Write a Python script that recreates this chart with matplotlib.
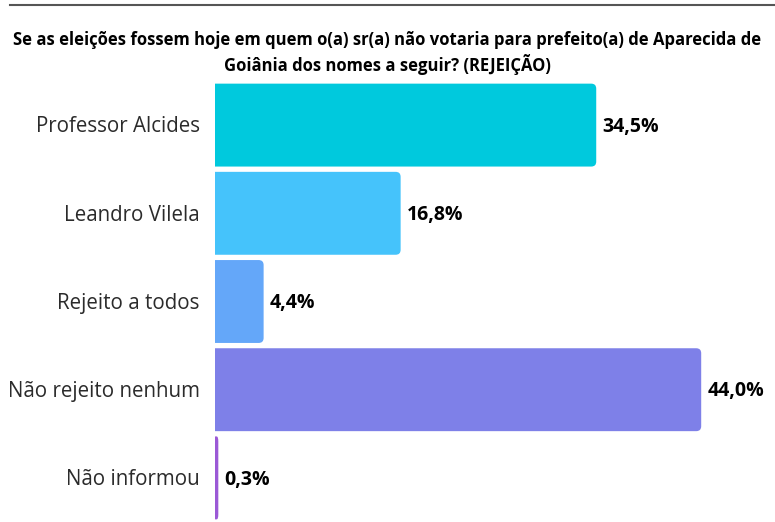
import matplotlib.pyplot as plt
from matplotlib.patches import PathPatch
from matplotlib.path import Path
from matplotlib.lines import Line2D

categories = ['Professor Alcides', 'Leandro Vilela', 'Rejeito a todos',
              'Não rejeito nenhum', 'Não informou']
values = [34.5, 16.8, 4.4, 44.0, 0.3]
colors = ['#00C9DD', '#45C3FB', '#64A7F9', '#7E80E8', '#9B59D6']
title = ('Se as eleições fossem hoje em quem o(a) sr(a) não votaria para prefeito(a) de Aparecida de\n'
         'Goiânia dos nomes a seguir? (REJEIÇÃO)')

plt.rcParams['font.family'] = ['Open Sans', 'DejaVu Sans']

fig = plt.figure(figsize=(7.75, 5.22), dpi=100)
ax = fig.add_axes([215 / 775, 0.0, 560 / 775, 441 / 522])
ax.set_xlim(0, 560 / 11.05)
ax.set_ylim(4.5, -0.5)
ax.axis('off')

bar_h = 0.94
px_x = 1 / 11.05   # x units per pixel
px_y = 1 / 88.25   # y units per pixel


def right_rounded(v, y0, y1, rpx=5):
    rx = min(rpx * px_x, v / 2)
    ry = rpx * px_y
    verts = [(0, y0), (v - rx, y0), (v, y0), (v, y0 + ry), (v, y1 - ry),
             (v, y1), (v - rx, y1), (0, y1), (0, y0)]
    codes = [Path.MOVETO, Path.LINETO, Path.CURVE3, Path.CURVE3, Path.LINETO,
             Path.CURVE3, Path.CURVE3, Path.LINETO, Path.CLOSEPOLY]
    return Path(verts, codes)


for i, (v, c) in enumerate(zip(values, colors)):
    ax.add_patch(PathPatch(right_rounded(v, i - bar_h / 2, i + bar_h / 2),
                           facecolor=c, edgecolor='none'))
    ax.text(v + 0.55, i + 0.02, f'{v:.1f}'.replace('.', ',') + '%', va='center', ha='left',
            fontsize=14, fontweight='bold', color='black')
    ax.text(-1.4, i + 0.02, categories[i], va='center', ha='right', fontsize=14.8,
            color='#2b2b2b')

fig.text(0.5, 1 - 53 / 522, title, ha='center', va='center', fontsize=12,
         fontweight='bold', color='black', linespacing=1.34)
fig.add_artist(Line2D([10 / 775, 1], [1 - 5 / 522, 1 - 5 / 522], color='#555555', lw=1.5))

fig.savefig('out.png', dpi=100)
